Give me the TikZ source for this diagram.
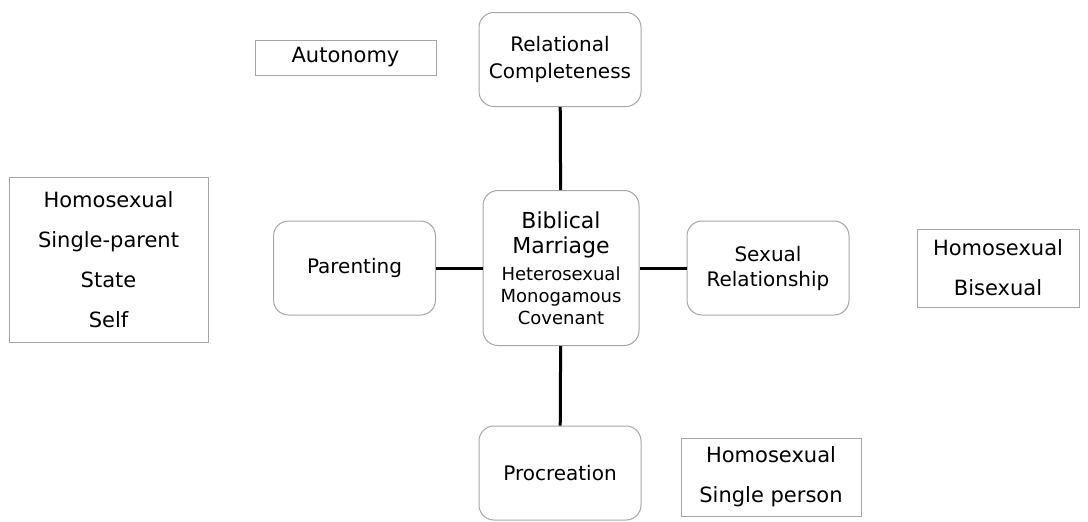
\documentclass[tikz,border=0pt]{standalone}
\usepackage{fontspec}
\setmainfont{DejaVu Sans}
\usepackage{tikz}
\definecolor{bdgray}{HTML}{A6A6A6}
\newcommand{\bigline}{\fontsize{11}{12.5}\selectfont}
\newcommand{\smallline}{\fontsize{9}{10.8}\selectfont}

\begin{document}
\begin{tikzpicture}[x=0.5pt, y=-0.5pt,
  roundbox/.style={draw=bdgray, line width=0.5pt, fill=white, rounded corners=7.5pt, minimum width=81pt, minimum height=47pt, inner sep=0pt, align=center, font=\fontsize{10}{13.5}\selectfont},
  listbox/.style={draw=bdgray, line width=0.5pt, fill=white, inner sep=0pt, align=center, font=\fontsize{10.5}{20}\selectfont},
  link/.style={black, line width=1.5pt}
]
  \useasboundingbox (0,0) rectangle (1088,521);

  \node[roundbox] (rel) at (560,59.5) {Relational\\Completeness};
  \node[roundbox] (par) at (354.5,268) {Parenting};
  \node[roundbox, minimum width=78pt, minimum height=77.5pt, font=\fontsize{9}{11}\selectfont] (bm) at (561,268) {\bigline Biblical\\[1.5pt]\bigline Marriage\\[2.5pt]\smallline Heterosexual\\\smallline Monogamous\\\smallline Covenant};
  \node[roundbox, font=\fontsize{10}{12.5}\selectfont] (sex) at (768,268) {Sexual\\Relationship};
  \node[roundbox] (pro) at (560,473) {Procreation};

  \node[listbox, minimum width=90.5pt, minimum height=17.5pt] (auto) at (345.5,57.5) {Autonomy};
  \node[listbox, minimum width=99.5pt, minimum height=82.5pt] (parlist) at (108.5,259.5) {Homosexual\\Single-parent\\State\\Self};
  \node[listbox, minimum width=81pt, minimum height=39pt] (sexlist) at (998,268) {Homosexual\\Bisexual};
  \node[listbox, minimum width=90pt, minimum height=39pt] (prolist) at (771,477) {Homosexual\\Single person};

  \draw[link] (rel) -- (bm);
  \draw[link] (par) -- (bm);
  \draw[link] (bm) -- (sex);
  \draw[link] (bm) -- (pro);
\end{tikzpicture}
\end{document}
